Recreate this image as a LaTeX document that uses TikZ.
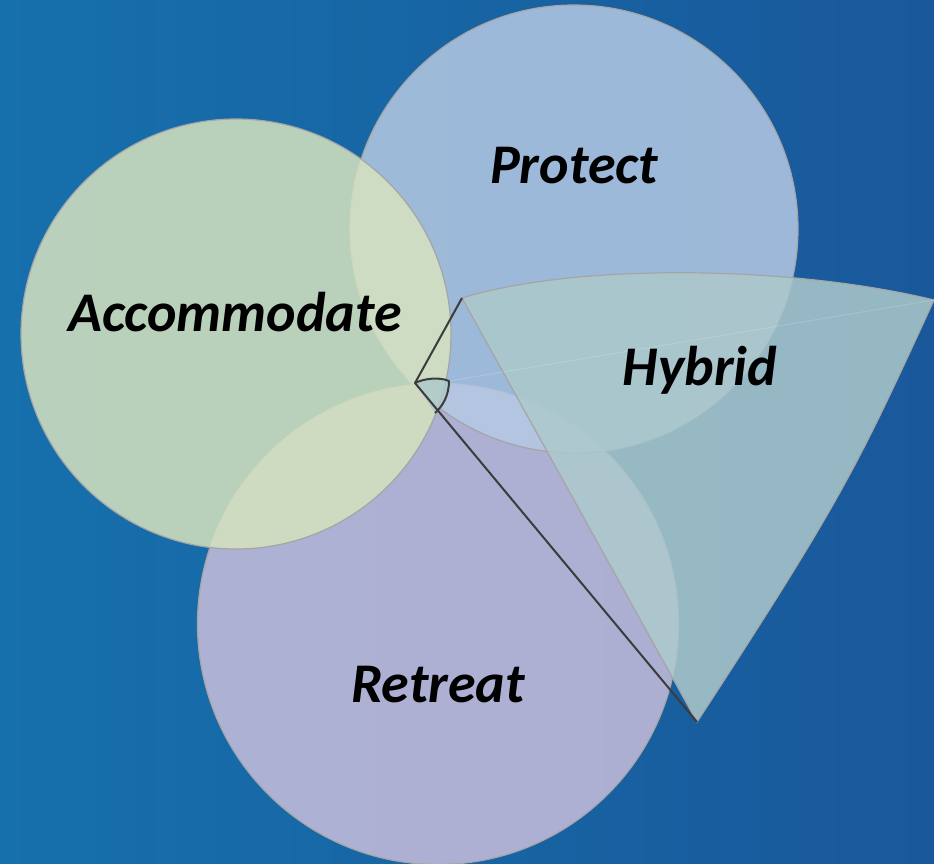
\documentclass[tikz,border=0pt]{standalone}
\usepackage{fontspec}
\setmainfont{Carlito}
\definecolor{bgleft}{RGB}{22,112,172}
\definecolor{bgright}{RGB}{25,88,155}
\definecolor{protectc}{RGB}{181,201,227}
\definecolor{accomc}{RGB}{214,227,191}
\definecolor{retreatc}{RGB}{200,190,219}
\definecolor{hybridc}{RGB}{173,201,203}
\definecolor{rimc}{RGB}{165,165,165}
\definecolor{edgec}{RGB}{60,60,60}

\begin{document}
\begin{tikzpicture}[x=1pt,y=-1pt,
   zone/.style={circle, draw=rimc, line width=1.2pt, fill opacity=0.85, inner sep=0pt},
   lbl/.style={font=\fontsize{56}{60}\selectfont\bfseries\itshape, anchor=base, inner sep=0pt},
   rim/.style={draw=edgec, line width=2pt, line join=round}]
   \useasboundingbox (0,0) rectangle (934,863);
   \shade[left color=bgleft, right color=bgright] (0,0) rectangle (934,863);

   \node[zone, fill=retreatc, minimum size=481pt]  (R) at (438,624) {} ; %
   \node[zone, fill=protectc, minimum size=448pt]  (P) at (574,229) {} ; %
   \node[zone, fill=accomc, minimum size=430pt]    (A) at (236,334) {} ; %

   \coordinate (apex) at (415,383) ;
   \coordinate (hl)   at (462,298) ;
   \coordinate (hr)   at (934,300) ;
   \coordinate (hb)   at (697,722) ;
   \coordinate (sa)   at (449,381) ;
   \coordinate (sb)   at (435,413) ;

   % hybrid wedge
   \path[fill=hybridc, fill opacity=0.85, draw=rimc, line width=1.2pt]
      (hl) .. controls (575,263) and (790,265) .. (hr)
      .. controls (858,465) and (845,495) .. (hb) -- cycle ;
   \draw[white, opacity=0.15, line width=1pt] (sa) -- (hr) ;
   \path[fill=hybridc, fill opacity=0.85]
      (apex) .. controls (425,378) and (440,377) .. (sa)
      .. controls (449,395) and (443,406) .. (sb) -- cycle ;
   \draw[rim] (hl) -- (apex) -- (hb) ;
   \draw[rim] (apex) .. controls (425,378) and (440,377) .. (sa)
      .. controls (449,395) and (443,406) .. (sb) ;

   \node[lbl] (Pt) at (574,183) {Protect} ; %
   \node[lbl] (At) at (235,331) {Accommodate} ; %
   \node[lbl] (Ht) at (700,385) {Hybrid} ; %
   \node[lbl] (Rt) at (438,702) {Retreat} ; %
\end{tikzpicture}
\end{document}
